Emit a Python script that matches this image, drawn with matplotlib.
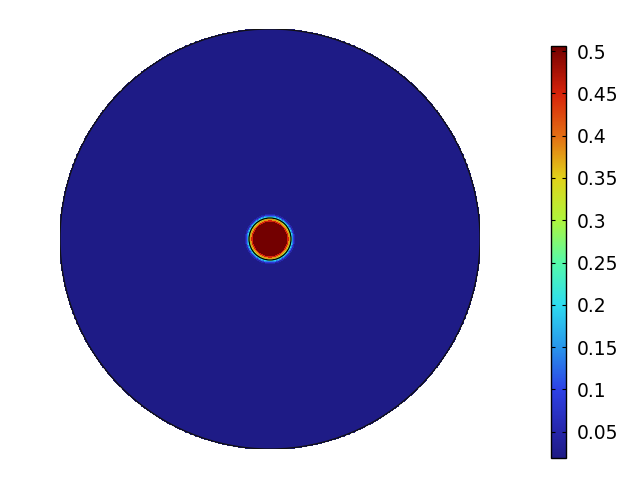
import numpy as np
import matplotlib
matplotlib.use("Agg")
import matplotlib.pyplot as plt
from matplotlib.colors import LinearSegmentedColormap, Normalize
from matplotlib.patches import Circle
from matplotlib.ticker import FuncFormatter

# Radial profile (outer radius = 1, inner boundary at 0.1)
ring_edges = [0.0, 0.088, 0.094, 0.1, 0.104, 0.108, 0.112, 0.116, 0.12, 0.125, 1.0]
ring_values = [0.52, 0.45, 0.38, 0.32, 0.26, 0.20, 0.14, 0.09, 0.05, 0.02]
color_min = 0.019
color_max = 0.506
cbar_ticks = [0.05, 0.1, 0.15, 0.2, 0.25, 0.3, 0.35, 0.4, 0.45, 0.5]

rainbow = LinearSegmentedColormap.from_list("comsol_rainbow", [
    (0.000, (30/255, 27/255, 133/255)),
    (0.064, (38/255, 38/255, 170/255)),
    (0.166, (45/255, 65/255, 230/255)),
    (0.269, (40/255, 150/255, 235/255)),
    (0.372, (45/255, 220/255, 240/255)),
    (0.474, (85/255, 250/255, 170/255)),
    (0.577, (175/255, 245/255, 60/255)),
    (0.680, (225/255, 210/255, 25/255)),
    (0.782, (228/255, 110/255, 20/255)),
    (0.885, (215/255, 35/255, 10/255)),
    (1.000, (115/255, 0/255, 0/255)),
], N=512)

fig = plt.figure(figsize=(6.4, 4.8), dpi=100)
ax = fig.add_axes([60/640, 31/480, 420/640, 420/480])
ax.set_xlim(-1, 1)
ax.set_ylim(-1, 1)
ax.axis("off")

theta = np.linspace(0, 2*np.pi, 721)
R, T = np.meshgrid(np.array(ring_edges), theta, indexing="ij")
X = R*np.cos(T)
Y = R*np.sin(T)
C = np.repeat(np.array(ring_values)[:, None], len(theta)-1, axis=1)
norm = Normalize(vmin=color_min, vmax=color_max)
mesh = ax.pcolormesh(X, Y, C, cmap=rainbow, norm=norm, shading="flat",
                     edgecolors="face", linewidth=0.3)

ax.add_patch(Circle((0, 0), 1.0, fill=False, edgecolor="#111111", linewidth=0.9))
ax.add_patch(Circle((0, 0), 0.1, fill=False, edgecolor="black", linewidth=0.9))

cax = fig.add_axes([551/640, 22/480, 15/640, 412/480])
cb = fig.colorbar(mesh, cax=cax)
cb.outline.set_linewidth(1.0)
cb.set_ticks(cbar_ticks)
cb.ax.yaxis.set_major_formatter(FuncFormatter(lambda v, p: "%g" % round(v, 3)))
cax.tick_params(axis="y", direction="in", length=3, width=0.8, left=True, right=True,
                labelsize=13.5, pad=8)

fig.savefig("out.png", dpi=100)
